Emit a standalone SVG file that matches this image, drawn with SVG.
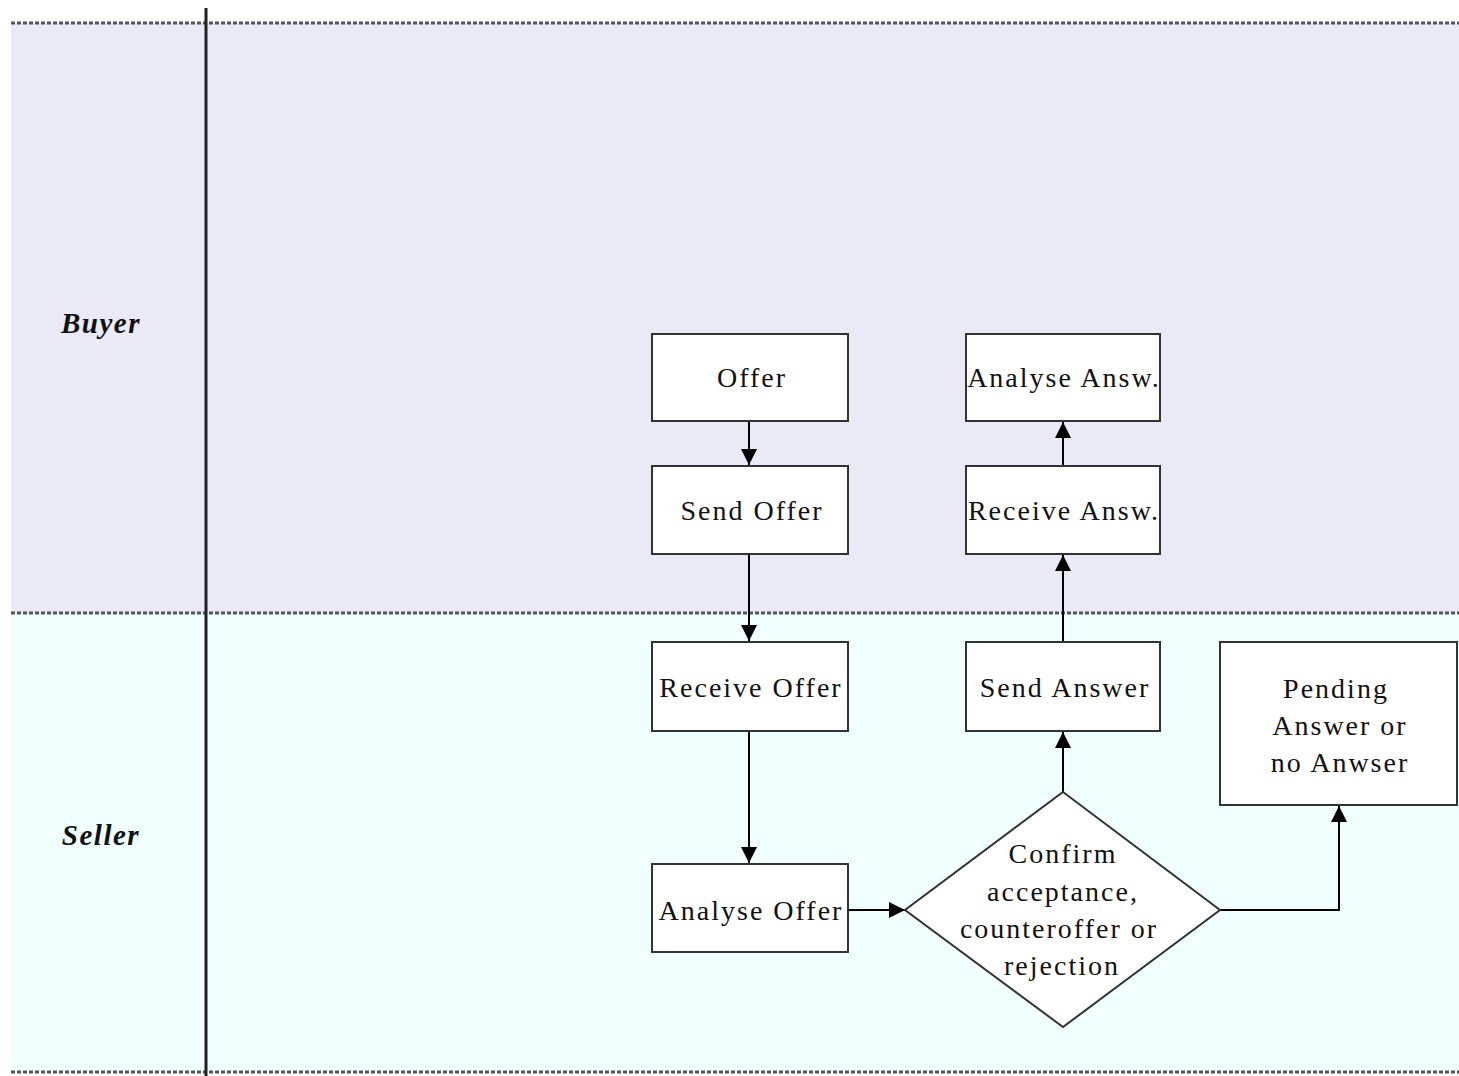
<svg xmlns="http://www.w3.org/2000/svg" width="1459" height="1076" viewBox="0 0 1459 1076">
<defs>
<marker id="ah" viewBox="0 0 10 10" refX="10" refY="5" markerWidth="16" markerHeight="16" markerUnits="userSpaceOnUse" orient="auto">
<path d="M0,0 L10,5 L0,10 z" fill="#000"/>
</marker>
<style>
.box{fill:#fff;stroke:#333;stroke-width:2}
.t{font-family:"Liberation Serif","Times New Roman",serif;font-size:28px;letter-spacing:2px;fill:#111;text-anchor:middle}
.lane{font-family:"Liberation Serif","Times New Roman",serif;font-size:29px;letter-spacing:1.5px;font-weight:bold;font-style:italic;fill:#111;text-anchor:middle}
.sep{stroke:#555;stroke-width:3;stroke-dasharray:4,2}
.con{fill:none;stroke:#000;stroke-width:2;marker-end:url(#ah)}
</style>
</defs>
<rect x="0" y="0" width="1459" height="1076" fill="#fff"/>
<g id="lane-buyer">
<rect x="11" y="23" width="1448" height="590" fill="#EAEAF6"/>
<text class="lane" x="101" y="333">Buyer</text>
</g>
<g id="lane-seller">
<rect x="11" y="613" width="1448" height="459" fill="#F0FFFF"/>
<text class="lane" x="101" y="845">Seller</text>
</g>
<g id="lane-lines">
<line class="sep" x1="11" y1="23" x2="1459" y2="23"/>
<line class="sep" x1="11" y1="613" x2="1459" y2="613"/>
<line class="sep" x1="11" y1="1072" x2="1459" y2="1072"/>
<line x1="206" y1="8" x2="206" y2="1076" stroke="#222" stroke-width="3"/>
</g>
<g id="connectors">
<line class="con" x1="749" y1="421" x2="749" y2="465"/>
<line class="con" x1="749" y1="554" x2="749" y2="641"/>
<line class="con" x1="749" y1="731" x2="749" y2="863"/>
<line class="con" x1="848" y1="910" x2="905" y2="910"/>
<line class="con" x1="1063" y1="792" x2="1063" y2="732"/>
<line class="con" x1="1063" y1="642" x2="1063" y2="555"/>
<line class="con" x1="1063" y1="466" x2="1063" y2="422"/>
<polyline class="con" points="1220,910 1339,910 1339,806"/>
</g>
<g id="n-offer">
<rect class="box" x="652" y="334" width="196" height="87"/>
<text class="t" x="752" y="387">Offer</text>
</g>
<g id="n-send-offer">
<rect class="box" x="652" y="466" width="196" height="88"/>
<text class="t" x="752" y="520">Send Offer</text>
</g>
<g id="n-analyse-answ">
<rect class="box" x="966" y="334" width="194" height="87"/>
<text class="t" x="1064" y="387">Analyse Answ.</text>
</g>
<g id="n-receive-answ">
<rect class="box" x="966" y="466" width="194" height="88"/>
<text class="t" x="1064" y="520">Receive Answ.</text>
</g>
<g id="n-receive-offer">
<rect class="box" x="652" y="642" width="196" height="89"/>
<text class="t" x="751" y="697">Receive Offer</text>
</g>
<g id="n-send-answer">
<rect class="box" x="966" y="642" width="194" height="89"/>
<text class="t" x="1065" y="697">Send Answer</text>
</g>
<g id="n-pending">
<rect class="box" x="1220" y="642" width="237" height="163"/>
<text class="t" x="1336" y="698">Pending</text>
<text class="t" x="1340" y="735">Answer or</text>
<text class="t" x="1340" y="772">no Anwser</text>
</g>
<g id="n-analyse-offer">
<rect class="box" x="652" y="864" width="196" height="88"/>
<text class="t" x="751" y="920">Analyse Offer</text>
</g>
<g id="n-decision">
<polygon class="box" points="1063,792 1220,910 1063,1027 905,910"/>
<text class="t" x="1063" y="863">Confirm</text>
<text class="t" x="1063" y="901">acceptance,</text>
<text class="t" x="1059" y="938">counteroffer or</text>
<text class="t" x="1062" y="975">rejection</text>
</g>
</svg>
